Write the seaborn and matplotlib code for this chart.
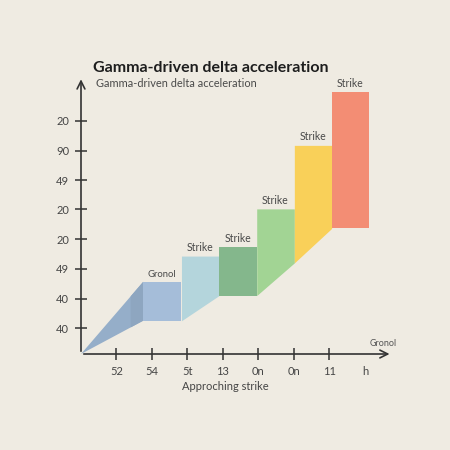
import matplotlib
matplotlib.use("Agg")
import matplotlib.pyplot as plt
import seaborn as sns

# valores
bar_labels = ["Gronol", "Strike", "Strike", "Strike", "Strike", "Strike"]
bar_edges = [1.75, 2.83, 3.89, 4.95, 6.01, 7.06, 8.11]
floor_at_edges = [1.12, 1.12, 1.97, 1.97, 3.07, 4.23, 4.23]
bar_tops = [2.43, 3.30, 3.59, 4.89, 7.03, 8.82]
bar_colors = ["#a5bdd9", "#b4d5dc", "#84b78c", "#a2d494", "#f9d059", "#f38d74"]

x_tick_pos = [1, 2, 3, 4, 5, 6, 7, 8]
x_tick_labels = ["52", "54", "5t", "13", "0n", "0n", "11", "h"]
y_tick_pos = [0.87, 1.87, 2.87, 3.87, 4.87, 5.86, 6.85, 7.86]
y_tick_labels = ["40", "40", "49", "20", "20", "49", "90", "20"]

BG = "#efebe2"
INK = "#333333"

sns.set_theme(style="white", rc={"figure.facecolor": BG, "axes.facecolor": BG})
plt.rcParams["font.family"] = ["Lato", "DejaVu Sans"]

fig = plt.figure(figsize=(4.5, 4.5), dpi=100)
ax = fig.add_axes([81 / 450, 96 / 450, 310.6 / 450, 276 / 450])
ax.set_xlim(0, 8.75)
ax.set_ylim(0, 9.3)
ax.patch.set_alpha(0)

# cunha inicial saindo da origem
x0 = bar_edges[0]
ax.fill([0, x0, x0], [0, bar_tops[0], floor_at_edges[0]], color="#95aec9", lw=0)
xs = x0 - 0.35
f = xs / x0
ax.fill([xs, x0, x0, xs],
        [bar_tops[0] * f, bar_tops[0], floor_at_edges[0], floor_at_edges[0] * f],
        color="#8ea6c0", lw=0)

for i, (lab, top, col) in enumerate(zip(bar_labels, bar_tops, bar_colors)):
    xl, xr = bar_edges[i], bar_edges[i + 1]
    ax.fill_between([xl, xr], [floor_at_edges[i], floor_at_edges[i + 1]], [top, top],
                    color=col, lw=0)
    fs = 6.8 if i == 0 else 7.6
    ax.text((xl + xr) / 2, top + 0.1, lab, ha="center", va="bottom",
            fontsize=fs, color="#4a4a4a")

for s in ax.spines.values():
    s.set_visible(False)

arrow = dict(arrowstyle="->", color=INK, lw=1.2, mutation_scale=14)
ax.annotate("", xy=(8.77, 0), xytext=(0, 0), arrowprops=arrow, annotation_clip=False)
ax.annotate("", xy=(0, 9.35), xytext=(0, 0), arrowprops=arrow, annotation_clip=False)

ax.set_xticks(x_tick_pos, x_tick_labels)
ax.set_yticks(y_tick_pos, y_tick_labels)
ax.tick_params(axis="both", direction="inout", length=9, width=1.1, color=INK,
               labelsize=8, labelcolor="#454545", pad=4, bottom=True, left=True)
ax.xaxis.get_major_ticks()[-1].tick1line.set_visible(False)

ax.text(4.06, -1.11, "Approching strike", ha="center", va="center",
        fontsize=8, color="#454545")
ax.text(8.5, 0.37, "Gronol", ha="center", va="center", fontsize=6.5, color="#555555")

fig.text(92.7 / 450, 1 - 68.3 / 450, "Gamma-driven delta acceleration",
         fontsize=11.5, fontweight="bold", color="#1e1e1e", va="center", ha="left")
fig.text(96 / 450, 1 - 83.3 / 450, "Gamma-driven delta acceleration",
         fontsize=7.9, color="#4a4a4a", va="center", ha="left")

fig.savefig("out.png", dpi=100, facecolor=BG)
